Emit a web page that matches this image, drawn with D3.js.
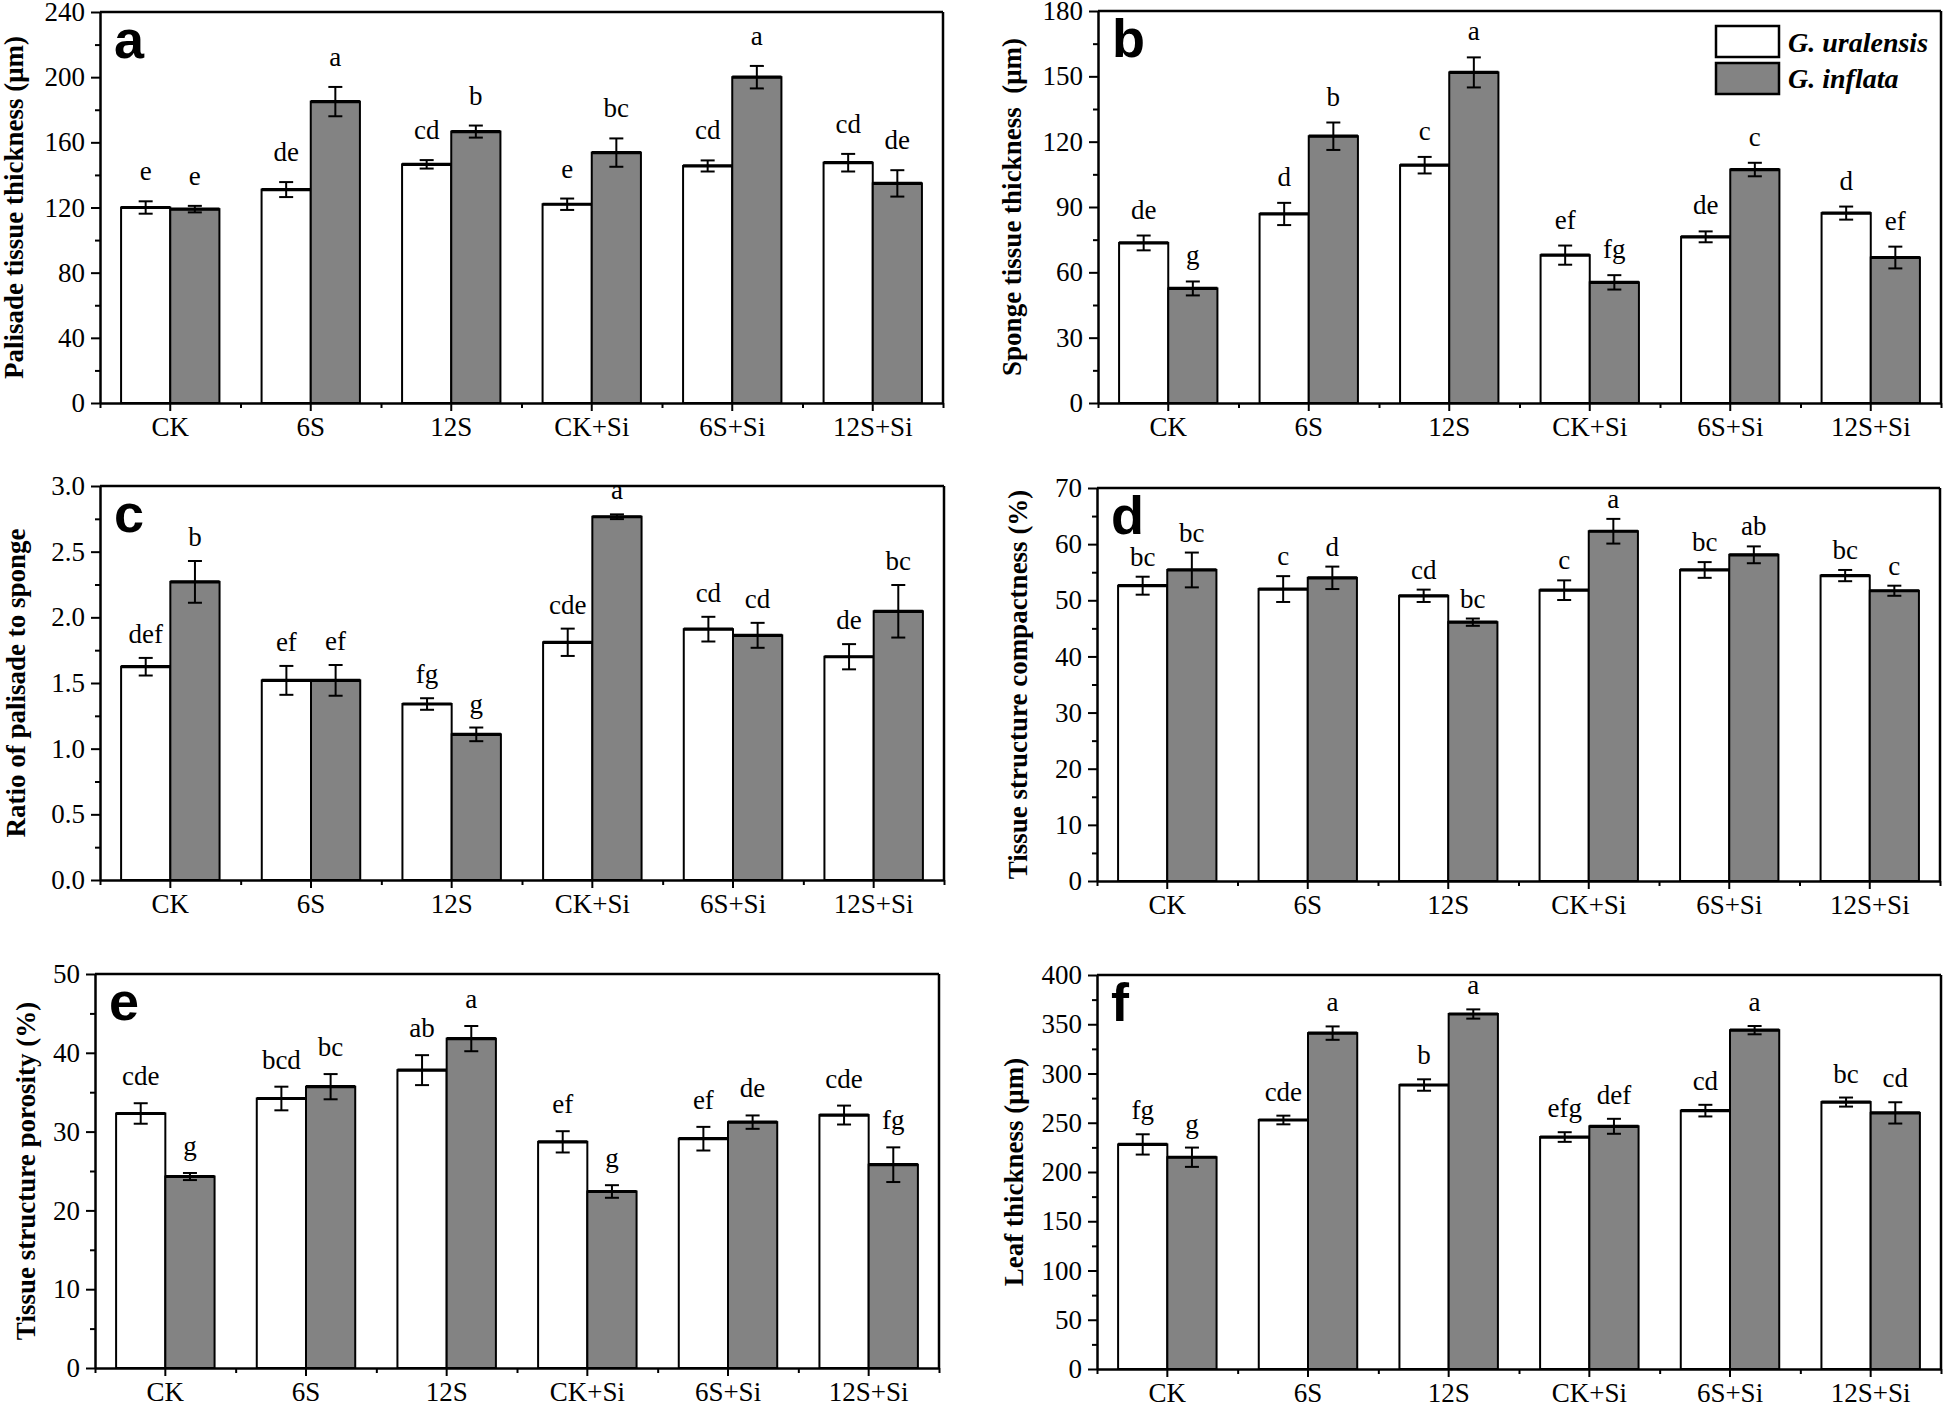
<!DOCTYPE html>
<html><head><meta charset="utf-8">
<script src="https://cdn.jsdelivr.net/npm/d3@7"></script>
<style>body{margin:0;background:#fff}</style>
</head><body>
<svg id="chart" width="1944" height="1408" xmlns="http://www.w3.org/2000/svg"></svg>
<script>
const categories = ["CK", "6S", "12S", "CK+Si", "6S+Si", "12S+Si"];
const seriesNames = ["G. uralensis", "G. inflata"];

// (a) Palisade tissue thickness (μm)
const palisadeUral    = [120, 131, 146.5, 122, 145.5, 147.5];
const palisadeUralErr = [3.8, 4.6, 2.6, 3.5, 3.4, 5.4];
const palisadeInfl    = [119, 185, 166.6, 153.7, 200, 134.8];
const palisadeInflErr = [2, 9, 3.7, 8.7, 6.9, 8.1];
const palisadeUralSig = ["e", "de", "cd", "e", "cd", "cd"];
const palisadeInflSig = ["e", "a", "b", "bc", "a", "de"];

// (b) Sponge tissue thickness (μm)
const spongeUral    = [73.5, 86.8, 109.2, 67.9, 76.3, 87.2];
const spongeUralErr = [3.4, 5.1, 3.8, 4.4, 2.5, 3];
const spongeInfl    = [52.6, 122.5, 151.8, 55.4, 107.2, 66.8];
const spongeInflErr = [3.2, 6.3, 6.9, 3.3, 3.1, 5];
const spongeUralSig = ["de", "d", "c", "ef", "de", "d"];
const spongeInflSig = ["g", "b", "a", "fg", "c", "ef"];

// (c) Ratio of palisade to sponge
const ratioUral    = [1.624, 1.52, 1.34, 1.81, 1.91, 1.70];
const ratioUralErr = [0.067, 0.11, 0.044, 0.104, 0.094, 0.096];
const ratioInfl    = [2.27, 1.52, 1.109, 2.766, 1.863, 2.046];
const ratioInflErr = [0.159, 0.117, 0.052, 0.018, 0.095, 0.2];
const ratioUralSig = ["def", "ef", "fg", "cde", "cd", "de"];
const ratioInflSig = ["b", "ef", "g", "a", "cd", "bc"];

// (d) Tissue structure compactness (%)
const compactUral    = [52.6, 52.0, 50.8, 51.8, 55.4, 54.4];
const compactUralErr = [1.6, 2.3, 1.1, 1.75, 1.4, 1.0];
const compactInfl    = [55.4, 54.0, 46.1, 62.3, 58.1, 51.7];
const compactInflErr = [3.1, 2.0, 0.65, 2.2, 1.5, 0.9];
const compactUralSig = ["bc", "c", "cd", "c", "bc", "bc"];
const compactInflSig = ["bc", "d", "bc", "a", "ab", "c"];

// (e) Tissue structure porosity (%)
const porosityUral    = [32.3, 34.2, 37.8, 28.7, 29.1, 32.1];
const porosityUralErr = [1.3, 1.5, 1.9, 1.35, 1.5, 1.2];
const porosityInfl    = [24.3, 35.7, 41.8, 22.4, 31.2, 25.8];
const porosityInflErr = [0.45, 1.6, 1.6, 0.8, 0.85, 2.2];
const porosityUralSig = ["cde", "bcd", "ab", "ef", "ef", "cde"];
const porosityInflSig = ["g", "bc", "a", "g", "de", "fg"];

// (f) Leaf thickness (μm)
const leafUral    = [228, 252.8, 288.3, 235.5, 262.3, 271];
const leafUralErr = [10.3, 4.4, 5.8, 4.9, 5.9, 4.6];
const leafInfl    = [215, 341, 360.4, 246.4, 344, 260];
const leafInflErr = [9.8, 6.8, 4.7, 7.6, 4.2, 10.8];
const leafUralSig = ["fg", "cde", "b", "efg", "cd", "bc"];
const leafInflSig = ["g", "a", "a", "def", "a", "cd"];

const yTicksA = [0, 40, 80, 120, 160, 200, 240];
const yTicksB = [0, 30, 60, 90, 120, 150, 180];
const yTicksC = [0, 0.5, 1.0, 1.5, 2.0, 2.5, 3.0];
const yTicksD = [0, 10, 20, 30, 40, 50, 60, 70];
const yTicksE = [0, 10, 20, 30, 40, 50];
const yTicksF = [0, 50, 100, 150, 200, 250, 300, 350, 400];

const panels = [
  {letter: "a", title: "Palisade tissue thickness (μm)", ticks: yTicksA, fmt: d3.format("d"),
   ural: palisadeUral, uralErr: palisadeUralErr, infl: palisadeInfl, inflErr: palisadeInflErr,
   uralSig: palisadeUralSig, inflSig: palisadeInflSig,
   box: {l: 100, r: 943, t: 12, b: 403}, titleOff: 77, gap: 21, legend: false},
  {letter: "b", title: "Sponge tissue thickness  (μm)", ticks: yTicksB, fmt: d3.format("d"),
   ural: spongeUral, uralErr: spongeUralErr, infl: spongeInfl, inflErr: spongeInflErr,
   uralSig: spongeUralSig, inflSig: spongeInflSig,
   box: {l: 1098, r: 1941, t: 11, b: 403}, titleOff: 77, gap: 17, legend: true},
  {letter: "c", title: "Ratio of palisade to sponge", ticks: yTicksC, fmt: d3.format(".1f"),
   ural: ratioUral, uralErr: ratioUralErr, infl: ratioInfl, inflErr: ratioInflErr,
   uralSig: ratioUralSig, inflSig: ratioInflSig,
   box: {l: 100, r: 944, t: 486, b: 880}, titleOff: 75, gap: 15, legend: false},
  {letter: "d", title: "Tissue structure compactness (%)", ticks: yTicksD, fmt: d3.format("d"),
   ural: compactUral, uralErr: compactUralErr, infl: compactInfl, inflErr: compactInflErr,
   uralSig: compactUralSig, inflSig: compactInflSig,
   box: {l: 1097, r: 1940, t: 488, b: 881}, titleOff: 70, gap: 11, legend: false},
  {letter: "e", title: "Tissue structure porosity (%)", ticks: yTicksE, fmt: d3.format("d"),
   ural: porosityUral, uralErr: porosityUralErr, infl: porosityInfl, inflErr: porosityInflErr,
   uralSig: porosityUralSig, inflSig: porosityInflSig,
   box: {l: 95, r: 939, t: 974, b: 1368}, titleOff: 60, gap: 18, legend: false},
  {letter: "f", title: "Leaf thickness (μm)", ticks: yTicksF, fmt: d3.format("d"),
   ural: leafUral, uralErr: leafUralErr, infl: leafInfl, inflErr: leafInflErr,
   uralSig: leafUralSig, inflSig: leafInflSig,
   box: {l: 1097, r: 1941, t: 975, b: 1369}, titleOff: 74, gap: 15, legend: false}
];

const SERIF = "'Liberation Serif','Times New Roman',serif";
const SANS = "'Liberation Sans',Arial,sans-serif";
const GRAY = "#838383";
const svg = d3.select("#chart");
svg.append("rect").attr("width", 1944).attr("height", 1408).attr("fill", "#fff");

panels.forEach(p => {
  const B = p.box;
  const g = svg.append("g");
  const x = d3.scaleBand().domain(categories).range([B.l, B.r]).padding(0);
  const ymax = p.ticks[p.ticks.length - 1];
  const y = d3.scaleLinear().domain([0, ymax]).range([B.b, B.t]);
  const bw = x.bandwidth() * 0.35;
  const step = p.ticks[1] - p.ticks[0];
  const minor = p.ticks.slice(0, -1).map(t => t + step / 2);

  const rows = [];
  categories.forEach((c, i) => {
    rows.push({c, s: 0, v: p.ural[i], e: p.uralErr[i], sig: p.uralSig[i]});
    rows.push({c, s: 1, v: p.infl[i], e: p.inflErr[i], sig: p.inflSig[i]});
  });
  const bx = d => x(d.c) + x.bandwidth() / 2 + (d.s === 0 ? -bw : 0);

  // panel letter (drawn first so marks sit above)
  g.append("text").attr("x", B.l + 14).attr("y", B.t + 46)
    .style("font-family", SANS).style("font-size", "54px").style("font-weight", "bold")
    .text(p.letter);

  // bars
  g.selectAll("rect.bar").data(rows).join("rect")
    .attr("class", "bar")
    .attr("x", bx).attr("width", bw)
    .attr("y", d => y(d.v)).attr("height", d => y(0) - y(d.v))
    .attr("fill", d => d.s === 0 ? "#fff" : GRAY)
    .attr("stroke", "#000").attr("stroke-width", 2);
  g.selectAll("line.top").data(rows).join("line")
    .attr("x1", bx).attr("x2", d => bx(d) + bw)
    .attr("y1", d => y(d.v)).attr("y2", d => y(d.v))
    .attr("stroke", "#000").attr("stroke-width", 3.2);

  // error bars
  const eg = g.selectAll("g.err").data(rows).join("g").attr("class", "err")
    .attr("stroke", "#000").attr("stroke-width", 2);
  const cx = d => bx(d) + bw / 2;
  eg.append("line").attr("x1", cx).attr("x2", cx)
    .attr("y1", d => y(d.v - d.e)).attr("y2", d => y(d.v + d.e));
  eg.append("line").attr("x1", d => cx(d) - 7).attr("x2", d => cx(d) + 7)
    .attr("y1", d => y(d.v + d.e)).attr("y2", d => y(d.v + d.e));
  eg.append("line").attr("x1", d => cx(d) - 7).attr("x2", d => cx(d) + 7)
    .attr("y1", d => y(d.v - d.e)).attr("y2", d => y(d.v - d.e));

  // significance letters
  g.selectAll("text.sig").data(rows).join("text")
    .attr("x", cx).attr("y", d => y(d.v + d.e) - p.gap)
    .attr("text-anchor", "middle")
    .style("font-family", SERIF).style("font-size", "27px")
    .text(d => d.sig);

  // frame (top & right)
  g.append("line").attr("x1", B.l).attr("x2", B.r).attr("y1", B.t).attr("y2", B.t)
    .attr("stroke", "#000").attr("stroke-width", 2.5);
  g.append("line").attr("x1", B.r).attr("x2", B.r).attr("y1", B.t).attr("y2", B.b)
    .attr("stroke", "#000").attr("stroke-width", 2.5);

  // y axis minor
  g.append("g").attr("transform", `translate(${B.l},0)`)
    .call(d3.axisLeft(y).tickValues(minor).tickSize(5).tickFormat(""))
    .call(s => s.select(".domain").remove())
    .selectAll("line").attr("stroke-width", 2);
  // y axis major
  const ya = g.append("g").attr("transform", `translate(${B.l},0)`)
    .call(d3.axisLeft(y).tickValues(p.ticks).tickSize(9).tickSizeOuter(0).tickPadding(6).tickFormat(p.fmt));
  ya.select(".domain").attr("stroke-width", 2.5);
  ya.selectAll(".tick line").attr("stroke-width", 2);
  ya.selectAll("text").style("font-family", SERIF).style("font-size", "27px").attr("fill", "#000");

  // x axis minor (group boundaries)
  const xl = d3.scaleLinear().domain([0, categories.length]).range([B.l, B.r]);
  g.append("g").attr("transform", `translate(0,${B.b})`)
    .call(d3.axisBottom(xl).tickValues(d3.range(0, categories.length + 1)).tickSize(5).tickFormat(""))
    .call(s => s.select(".domain").remove())
    .selectAll("line").attr("stroke-width", 2);
  // x axis major
  const xa = g.append("g").attr("transform", `translate(0,${B.b})`)
    .call(d3.axisBottom(x).tickSize(8).tickSizeOuter(0).tickPadding(6));
  xa.select(".domain").attr("stroke-width", 2.5);
  xa.selectAll(".tick line").attr("stroke-width", 2);
  xa.selectAll("text").style("font-family", SERIF).style("font-size", "27px").attr("fill", "#000");

  // y title
  g.append("text")
    .attr("transform", `translate(${B.l - p.titleOff},${(B.t + B.b) / 2}) rotate(-90)`)
    .attr("text-anchor", "middle")
    .style("font-family", SERIF).style("font-size", "27px").style("font-weight", "bold")
    .style("white-space", "pre")
    .text(p.title);

  if (p.legend) {
    const lg = g.append("g");
    seriesNames.forEach((n, i) => {
      lg.append("rect").attr("x", 1716).attr("y", 26 + i * 37).attr("width", 63).attr("height", 31)
        .attr("fill", i === 0 ? "#fff" : GRAY).attr("stroke", "#000").attr("stroke-width", 2.5);
      lg.append("text").attr("x", 1788).attr("y", 52 + i * 36)
        .style("font-family", SERIF).style("font-size", "28px")
        .style("font-weight", "bold").style("font-style", "italic")
        .text(n);
    });
  }
});
</script>
</body></html>
